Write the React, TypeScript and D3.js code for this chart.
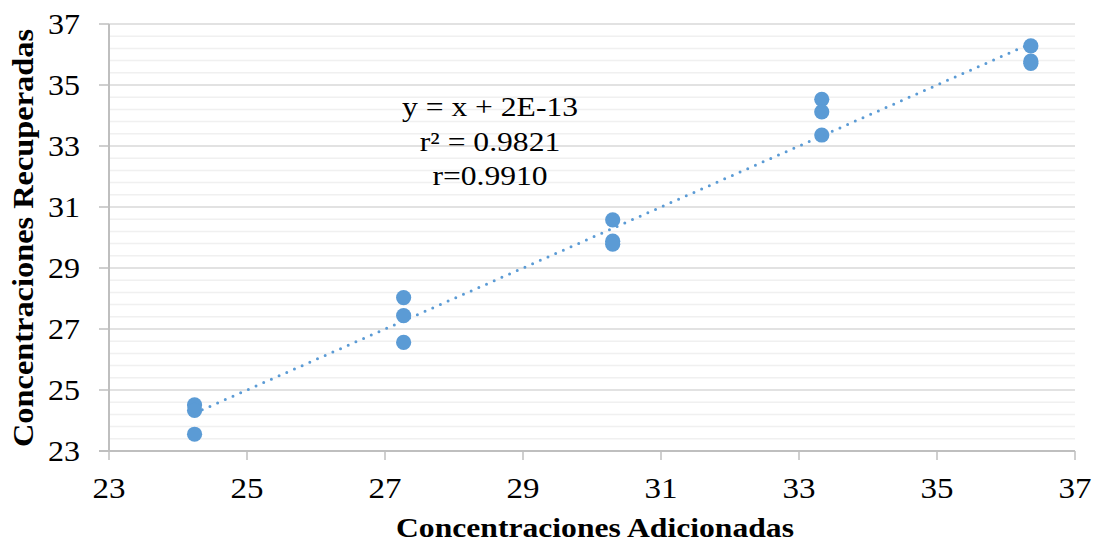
import React from "react";
import * as d3 from "d3";

const xGroups = [24.24, 27.27, 30.3, 33.33, 36.36];
const yGroup1 = [24.51, 24.33, 23.55];
const yGroup2 = [28.03, 27.44, 26.56];
const yGroup3 = [30.58, 29.88, 29.78];
const yGroup4 = [34.53, 34.12, 33.36];
const yGroup5 = [36.28, 35.78, 35.71];
const yGroups = [yGroup1, yGroup2, yGroup3, yGroup4, yGroup5];
const xTicks = [23, 25, 27, 29, 31, 33, 35, 37];
const yTicks = [23, 25, 27, 29, 31, 33, 35, 37];
const equationLines = ["y = x + 2E-13", "r² = 0.9821", "r=0.9910"];
const slope = 1;
const intercept = 2e-13;

const W = 1095;
const H = 546;
const left = 109;
const right = 1075;
const top = 24;
const bottom = 451;
const blue = "#5B9BD5";
const font = "'Liberation Serif', 'Times New Roman', serif";
const eqBaselines = [116, 151, 185];

export default function App() {
  const x = d3.scaleLinear().domain([23, 37]).range([left, right]);
  const y = d3.scaleLinear().domain([23, 37]).range([bottom, top]);
  const minor = d3.range(23, 37.001, 0.4).filter((v) => Math.abs((v - 23) / 2 - Math.round((v - 23) / 2)) > 0.01);
  const points = xGroups.flatMap((xv, i) => yGroups[i].map((yv) => ({ xv, yv })));
  const x0 = d3.min(xGroups)!;
  const x1 = d3.max(xGroups)!;
  const line = d3.line<number>().x((d) => x(d)).y((d) => y(slope * d + intercept));
  return (
    <svg width={W} height={H} style={{ position: "absolute", left: 0, top: 0, background: "#fff" }}>
      <rect width={W} height={H} fill="#fff" />
      {minor.map((v, i) => (
        <line key={"m" + i} x1={left} x2={right} y1={y(v)} y2={y(v)} stroke="#f0f0f0" strokeWidth={1.5} />
      ))}
      {yTicks.map((v) => (
        <line key={"g" + v} x1={left} x2={right} y1={y(v)} y2={y(v)} stroke="#d9d9d9" strokeWidth={1.5} />
      ))}
      {yTicks.map((v) => (
        <line key={"yt" + v} x1={left - 10} x2={left} y1={y(v)} y2={y(v)} stroke="#bfbfbf" strokeWidth={1.5} />
      ))}
      {xTicks.map((v) => (
        <line key={"xt" + v} x1={x(v)} x2={x(v)} y1={bottom} y2={bottom + 9} stroke="#bfbfbf" strokeWidth={1.5} />
      ))}
      <line x1={left} x2={left} y1={top} y2={bottom} stroke="#bfbfbf" strokeWidth={2} />
      <line x1={left - 10} x2={right} y1={bottom} y2={bottom} stroke="#bfbfbf" strokeWidth={2} />
      {yTicks.map((v) => (
        <text key={"yl" + v} x={80} y={y(v) + 10} textAnchor="end" fontFamily={font} fontSize={29} textLength={32} lengthAdjust="spacingAndGlyphs" fill="#000">
          {v}
        </text>
      ))}
      {xTicks.map((v) => (
        <text key={"xl" + v} x={x(v)} y={498} textAnchor="middle" fontFamily={font} fontSize={30} textLength={33} lengthAdjust="spacingAndGlyphs" fill="#000">
          {v}
        </text>
      ))}
      {points.map((p, i) => (
        <circle key={"p" + i} cx={x(p.xv)} cy={y(p.yv)} r={7.6} fill={blue} />
      ))}
      <path d={line([x0, x1]) || ""} stroke={blue} strokeWidth={3} strokeDasharray="0 8.4" strokeLinecap="round" fill="none" />
      {equationLines.map((t, i) => (
        <text key={"e" + i} transform={`translate(490,${eqBaselines[i]}) scale(1.17,1)`} textAnchor="middle" fontFamily={font} fontSize={27} fill="#000">
          {t}
        </text>
      ))}
      <text x={595} y={537} textAnchor="middle" fontFamily={font} fontSize={27} fontWeight="bold" textLength={398} lengthAdjust="spacingAndGlyphs" fill="#000">
        Concentraciones Adicionadas
      </text>
      <text transform={`translate(33,238) rotate(-90)`} textAnchor="middle" fontFamily={font} fontSize={29} fontWeight="bold" textLength={418} lengthAdjust="spacingAndGlyphs" fill="#000">
        Concentraciones Recuperadas
      </text>
    </svg>
  );
}
